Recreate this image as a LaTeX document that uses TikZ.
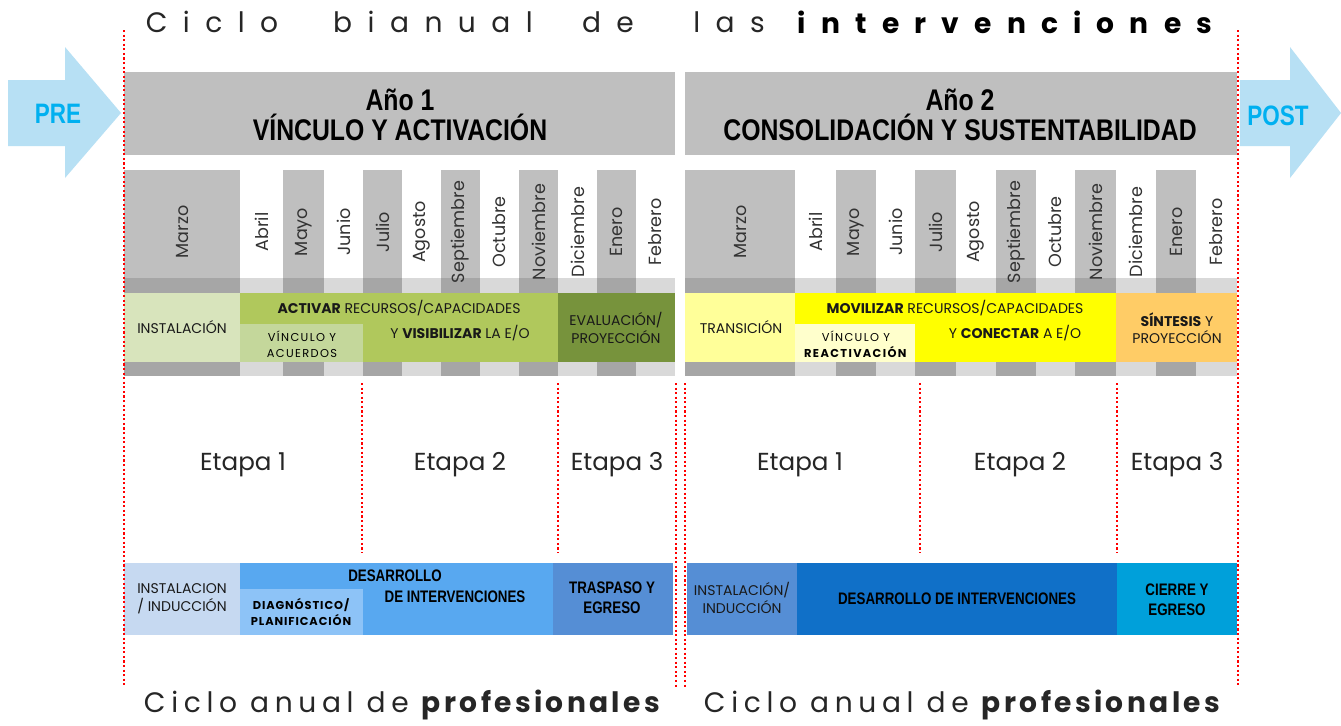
\documentclass[tikz,border=0pt]{standalone}
\usepackage{fontspec}
\setmainfont{Poppins}
\newfontfamily\condfont[FakeStretch=0.8]{Liberation Sans}
\newfontfamily\anchafont[FakeStretch=0.83]{Liberation Sans}
\usetikzlibrary{positioning}
\definecolor{encabezado}{RGB}{191,191,191}
\definecolor{franjaosc}{RGB}{166,166,166}
\definecolor{franjaclara}{RGB}{217,217,217}
\definecolor{flechaazul}{RGB}{183,224,244}
\definecolor{textoazul}{RGB}{0,176,240}
\definecolor{verdeA}{RGB}{216,228,188}
\definecolor{verdeB}{RGB}{176,200,92}
\definecolor{verdeC}{RGB}{196,215,155}
\definecolor{verdeD}{RGB}{119,147,60}
\definecolor{amarilloA}{RGB}{255,255,153}
\definecolor{amarilloB}{RGB}{255,255,0}
\definecolor{amarilloC}{RGB}{255,255,204}
\definecolor{naranja}{RGB}{255,204,102}
\definecolor{azulA}{RGB}{198,217,241}
\definecolor{azulB}{RGB}{88,168,240}
\definecolor{azulC}{RGB}{141,195,247}
\definecolor{azulD}{RGB}{85,142,213}
\definecolor{azulE}{RGB}{16,112,200}
\definecolor{azulF}{RGB}{0,160,218}

\begin{document}
\begin{tikzpicture}[x=0.02cm, y=-0.02cm,
    titulo/.style={font=\fontsize{16}{19}\selectfont\addfontfeatures{LetterSpace=55}, text=black!85},
    tituloneg/.style={font=\bfseries\fontsize{16}{19}\selectfont\addfontfeatures{LetterSpace=54}, text=black},
    anual/.style={font=\fontsize{16}{19}\selectfont, text=black!85},
    anio/.style={font=\anchafont\bfseries\fontsize{17}{17}\selectfont, align=center},
    mes/.style={font=\fontsize{10}{12}\selectfont, rotate=90, text=black!80},
    banda/.style={font=\fontsize{8}{10}\selectfont, align=center, inner sep=0pt, text=black!90},
    chica/.style={font=\fontsize{6.5}{9}\selectfont\addfontfeatures{LetterSpace=12}, align=center, inner sep=0pt},
    cond/.style={font=\condfont\bfseries\fontsize{9.5}{11.5}\selectfont, align=center, inner sep=0pt},
    etapa/.style={font=\fontsize{14}{16}\selectfont, text=black!85},
    flecha/.style={fill=flechaazul},
    linea/.style={red, line width=1.4pt, dash pattern=on 1.2pt off 1.4pt},
    colg/.style={fill=encabezado}, colw/.style={fill=white},
    barg/.style={fill=franjaosc}, barw/.style={fill=franjaclara}
]
    \fill[white] (0,0) rectangle (1341,721);

    % Title, word by word
    \node[titulo] (t1) at (212,22) {Ciclo};
    \node[titulo] (t2) at (433,22) {bianual};
    \node[titulo] (t3) at (608,22) {de};
    \node[titulo] (t4) at (729,22) {las};
    \node[tituloneg] (t5) at (1005,22) {intervenciones};

    % PRE / POST arrows
    \fill[flecha] (8,80) -- (65,80) -- (65,47) -- (121,113) -- (65,178) -- (65,146) -- (8,146) -- cycle;
    \node[font=\condfont\bfseries\fontsize{16}{18}\selectfont, text=textoazul] (pre) at (58,114) {PRE};
    \fill[flecha] (1240,80) -- (1290,80) -- (1290,47) -- (1341,113) -- (1290,178) -- (1290,146) -- (1240,146) -- cycle;
    \node[font=\condfont\bfseries\fontsize{16}{18}\selectfont, text=textoazul] (post) at (1278,116) {POST};

    % Year headers
    \fill[encabezado] (124,72) rectangle (675,155);
    \fill[encabezado] (685,72) rectangle (1237,155);
    \node[anio] (anio1) at (400,115) {Año 1\\VÍNCULO Y ACTIVACIÓN};
    \node[anio] (anio2) at (960,115) {Año 2\\CONSOLIDACIÓN Y SUSTENTABILIDAD};

    % Months, year 1 and year 2
    \foreach \a/\b/\mes/\tono in {124/240/Marzo/g, 240/283/Abril/w, 283/324/Mayo/g,
        324/363/Junio/w, 363/402/Julio/g, 402/441/Agosto/w, 441/480/Septiembre/g,
        480/519/Octubre/w, 519/558/Noviembre/g, 558/597/Diciembre/w, 597/636/Enero/g,
        636/675/Febrero/w, 685/795/Marzo/g, 795/836/Abril/w, 836/876/Mayo/g,
        876/915/Junio/w, 915/956/Julio/g, 956/996/Agosto/w, 996/1036/Septiembre/g,
        1036/1075/Octubre/w, 1075/1116/Noviembre/g, 1116/1156/Diciembre/w,
        1156/1196/Enero/g, 1196/1237/Febrero/w} {
        \fill[col\tono] (\a,170) rectangle (\b,278);
        \fill[bar\tono] (\a,278) rectangle (\b,293);
        \fill[bar\tono] (\a,362) rectangle (\b,376);
        \node[mes] (m\a) at ({(\a+\b)/2},232) {\mes};
    }

    % Year 1: activity band
    \fill[verdeA] (124,293) rectangle (240,362);
    \fill[verdeB] (240,293) rectangle (558,362);
    \fill[verdeC] (240,324) rectangle (363,362);
    \fill[verdeD] (558,293) rectangle (675,362);
    \node[banda] (instalacion) at (182,327) {INSTALACIÓN};
    \node[banda] (activar) at (399,308) {\textbf{ACTIVAR} RECURSOS/CAPACIDADES};
    \node[chica] (vinculo1) at (302,344) {VÍNCULO Y\\ACUERDOS};
    \node[banda] (visibilizar) at (460,333) {Y \textbf{VISIBILIZAR} LA E/O};
    \node[banda] (evaluacion) at (616,328) {EVALUACIÓN/\\PROYECCIÓN};

    % Year 2: activity band
    \fill[amarilloA] (685,293) rectangle (795,362);
    \fill[amarilloB] (795,293) rectangle (1116,362);
    \fill[amarilloC] (795,324) rectangle (915,362);
    \fill[naranja] (1116,293) rectangle (1237,362);
    \node[banda] (transicion) at (741,327) {TRANSICIÓN};
    \node[banda] (movilizar) at (955,308) {\textbf{MOVILIZAR} RECURSOS/CAPACIDADES};
    \node[chica] (vinculo2) at (856,344) {VÍNCULO Y\\\textbf{REACTIVACIÓN}};
    \node[banda] (conectar) at (1015,333) {Y \textbf{CONECTAR} A E/O};
    \node[banda] (sintesis) at (1177,328) {\textbf{SÍNTESIS} Y\\PROYECCIÓN};

    % Stages
    \node[etapa] (etapa11) at (243,465) {Etapa 1};
    \node[etapa] (etapa12) at (460,465) {Etapa 2};
    \node[etapa] (etapa13) at (617,465) {Etapa 3};
    \node[etapa] (etapa21) at (800,465) {Etapa 1};
    \node[etapa] (etapa22) at (1020,465) {Etapa 2};
    \node[etapa] (etapa23) at (1177,465) {Etapa 3};

    % Professionals band, year 1
    \fill[azulA] (124,563) rectangle (240,635);
    \fill[azulB] (240,563) rectangle (553,635);
    \fill[azulC] (240,589) rectangle (363,635);
    \fill[azulD] (553,563) rectangle (673,635);
    \node[banda] (induccion1) at (182,599) {INSTALACION\\/ INDUCCIÓN};
    \node[cond] (desarrollo1) at (395,576) {DESARROLLO};
    \node[cond] (intervenciones1) at (455,597) {DE INTERVENCIONES};
    \node[chica, font=\bfseries\fontsize{6.5}{9}\selectfont\addfontfeatures{LetterSpace=8}] (diagnostico) at (301,612) {DIAGNÓSTICO/\\PLANIFICACIÓN};
    \node[cond] (traspaso) at (612,598) {TRASPASO Y\\EGRESO};

    % Professionals band, year 2
    \fill[azulD] (687,563) rectangle (797,635);
    \fill[azulE] (797,563) rectangle (1117,635);
    \fill[azulF] (1117,563) rectangle (1237,635);
    \node[banda] (induccion2) at (742,598) {INSTALACIÓN/\\INDUCCIÓN};
    \node[cond] (desarrollo2) at (957,599) {DESARROLLO DE INTERVENCIONES};
    \node[cond] (cierre) at (1177,600) {CIERRE Y\\EGRESO};

    % Dotted limits
    \draw[linea] (124,30) -- (124,685);
    \draw[linea] (1238,30) -- (1238,685);
    \draw[linea] (676,383) -- (676,688);
    \draw[linea] (685,383) -- (685,688);
    \foreach \x in {362,558,920,1117}
        \draw[linea] (\x,383) -- (\x,553);

    % Bottom titles
    \node[anual] (anualA) at (402,705)
        {\addfontfeatures{LetterSpace=20}Ciclo anual de {\addfontfeatures{LetterSpace=12}\bfseries profesionales}};
    \node[anual] (anualB) at (962,705)
        {\addfontfeatures{LetterSpace=20}Ciclo anual de {\addfontfeatures{LetterSpace=12}\bfseries profesionales}};
\end{tikzpicture}
\end{document}
